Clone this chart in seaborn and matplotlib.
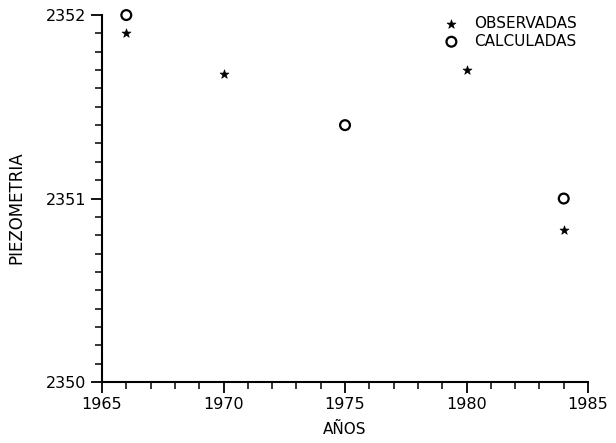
import matplotlib
matplotlib.use("Agg")
import matplotlib.pyplot as plt
from matplotlib.ticker import MultipleLocator
import pandas as pd
import seaborn as sns

# Observed and calculated piezometric levels
obs_years = [1966, 1970, 1980, 1984]
obs_levels = [2351.90, 2351.68, 2351.70, 2350.83]
calc_years = [1966, 1975, 1984]
calc_levels = [2352.00, 2351.40, 2351.00]

sns.set_theme(style="white")
plt.rcParams["font.family"] = ["DejaVu Sans"]

obs = pd.DataFrame({"year": obs_years, "level": obs_levels})
calc = pd.DataFrame({"year": calc_years, "level": calc_levels})

fig = plt.figure(figsize=(6.16, 4.43), dpi=100)
ax = fig.add_axes([0.1656, 0.1377, 0.789, 0.8283])

sns.scatterplot(data=obs, x="year", y="level", marker="*", s=45,
                color="black", edgecolor="black", linewidth=0.5,
                label="OBSERVADAS", ax=ax, zorder=3, clip_on=False)
sns.scatterplot(data=calc, x="year", y="level", marker="o", s=50,
                facecolor="none", edgecolor="black", linewidth=1.6,
                label="CALCULADAS", ax=ax, zorder=3, clip_on=False)

ax.set_xlim(1965, 1985)
ax.set_ylim(2350, 2352)
ax.xaxis.set_major_locator(MultipleLocator(5))
ax.xaxis.set_minor_locator(MultipleLocator(1))
ax.yaxis.set_major_locator(MultipleLocator(1))
ax.yaxis.set_minor_locator(MultipleLocator(0.1))

for side in ("top", "right"):
    ax.spines[side].set_visible(False)
for side in ("left", "bottom"):
    ax.spines[side].set_color("black")
    ax.spines[side].set_linewidth(1.5)

ax.tick_params(which="major", direction="out", length=8, width=1.3,
               color="black", labelsize=11.5, labelcolor="black", pad=3)
ax.tick_params(which="minor", direction="out", length=5, width=1.1,
               color="black")
ax.tick_params(axis="both", which="both", bottom=True, left=True)

ax.set_xlabel("AÑOS", fontsize=11, color="black", labelpad=7)
ax.set_ylabel("PIEZOMETRIA", fontsize=12, color="black")
ax.yaxis.set_label_coords(-0.158, 0.475)

leg = ax.legend(loc="upper right", bbox_to_anchor=(0.99, 1.015), frameon=False,
                fontsize=11, handletextpad=1.0, labelspacing=0.2,
                handlelength=1.0, borderaxespad=0, labelcolor="black")

fig.savefig("out.png", dpi=100, facecolor="white")
